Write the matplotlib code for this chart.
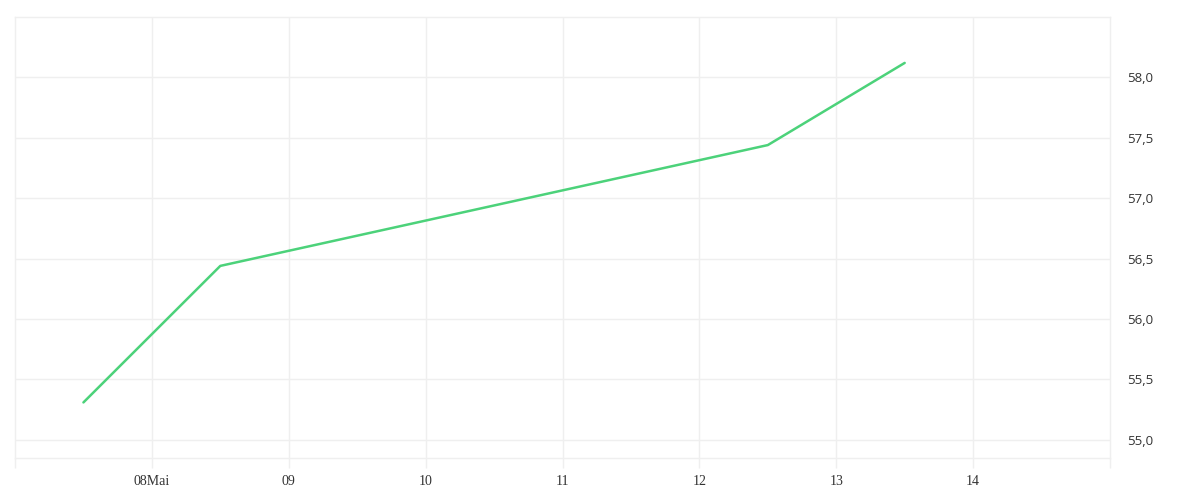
import matplotlib
matplotlib.use('Agg')
import matplotlib.pyplot as plt
from matplotlib.ticker import FuncFormatter

# days in May (x) and values
days = [7.5, 8.5, 12.5, 13.5]
values = [55.31, 56.44, 57.44, 58.12]
xticks = [8, 9, 10, 11, 12, 13, 14]
xlabels = ['08Mai', '09', '10', '11', '12', '13', '14']
yticks = [55.0, 55.5, 56.0, 56.5, 57.0, 57.5, 58.0]

grid = '#efefef'
txt = '#333333'

fig = plt.figure(figsize=(12, 5), dpi=100)
ax = fig.add_axes([15/1200, 42/500, 1095/1200, 441/500])

ax.plot(days, values, color='#4cd27a', linewidth=1.8, solid_capstyle='round')

ax.set_xlim(7.0, 15.0)
ax.set_ylim(54.85, 58.5)

# both edges also get a tick line below the plot
ax.set_xticks(xticks)
ax.set_xticklabels(xlabels, fontfamily='Liberation Serif', fontsize=10, color=txt)
ax.set_xticks([7.0, 15.0], minor=True)
ax.set_yticks(yticks)
ax.yaxis.set_major_formatter(FuncFormatter(lambda v, p: f'{v:.1f}'.replace('.', ',')))
ax.yaxis.tick_right()
for lab in ax.get_yticklabels():
    lab.set_fontfamily('Open Sans')
ax.tick_params(axis='y', length=0, pad=12, labelsize=9.5, labelcolor=txt)
ax.tick_params(axis='x', which='both', length=7, width=1, color=grid, pad=5)

ax.grid(True, color=grid, linewidth=1)
ax.set_axisbelow(True)
for s in ax.spines.values():
    s.set_color(grid)
    s.set_linewidth(1)

fig.savefig('out.png', dpi=100, facecolor='white')
